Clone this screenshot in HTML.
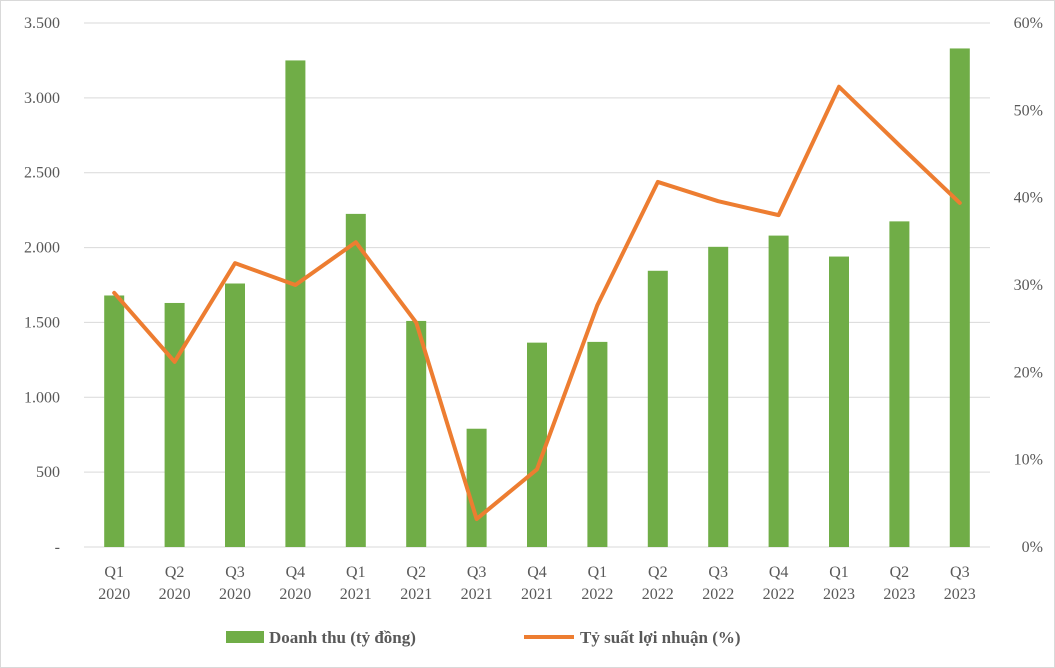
<!DOCTYPE html>
<html><head><meta charset="utf-8"><style>
body{margin:0;background:#fff;}
svg{display:block;font-family:"Liberation Serif","DejaVu Serif",serif;}
</style></head><body>
<svg id="chart" width="1055" height="668">
<rect x="0.5" y="0.5" width="1054" height="667" fill="#fff" stroke="#d9d9d9"/>
<g id="grid"></g><g id="bars"></g><g id="line"></g><g id="axes"></g>
<g>
<rect x="226" y="631" width="38" height="12" fill="#70ad47"/>
<text x="269" y="643" font-size="17" font-weight="bold" fill="#595959">Doanh thu (tỷ đồng)</text>
<line x1="524" y1="637" x2="574" y2="637" stroke="#ed7d31" stroke-width="4"/>
<text x="580" y="643" font-size="17" font-weight="bold" fill="#595959">Tỷ suất lợi nhuận (%)</text>
</g>
</svg>
<script>
const categories=["Q1|2020","Q2|2020","Q3|2020","Q4|2020","Q1|2021","Q2|2021","Q3|2021","Q4|2021","Q1|2022","Q2|2022","Q3|2022","Q4|2022","Q1|2023","Q2|2023","Q3|2023"];
const revenue=[1680,1630,1760,3250,2225,1510,790,1365,1370,1845,2005,2080,1940,2175,3330];
const margin=[29.1,21.2,32.5,30.0,34.9,25.7,3.2,8.9,27.7,41.8,39.6,38.0,52.7,46.0,39.4];
const leftTicks=["-","500","1.000","1.500","2.000","2.500","3.000","3.500"];
const rightTicks=["0%","10%","20%","30%","40%","50%","60%"];
const NS="http://www.w3.org/2000/svg";
const X0=84,X1=990,Y0=547,Y1=23;
const step=(X1-X0)/categories.length;
const xc=i=>X0+step*(i+0.5);
const yL=v=>Y0-(v/3500)*(Y0-Y1);
const yR=v=>Y0-(v/60)*(Y0-Y1);
function mk(t,a,p){const e=document.createElementNS(NS,t);for(const k in a)e.setAttribute(k,a[k]);p.appendChild(e);return e;}
const grid=document.getElementById('grid'),bars=document.getElementById('bars'),line=document.getElementById('line'),axes=document.getElementById('axes');
leftTicks.forEach((t,i)=>{const y=yL(i*500);
const g=mk('line',{x1:X0,x2:X1,y1:y,y2:y,stroke:'#d9d9d9','stroke-width':1},grid);


const tx=mk('text',{x:60,y:y+5,'text-anchor':'end','font-size':16,fill:'#595959'},axes);tx.textContent=t;

});
rightTicks.forEach((t,i)=>{const y=yR(i*10);
const tx=mk('text',{x:1043,y:y+5,'text-anchor':'end','font-size':16,fill:'#595959'},axes);tx.textContent=t;

});
categories.forEach((c,i)=>{const [q,yr]=c.split('|');
const t1=mk('text',{x:xc(i),y:577,'text-anchor':'middle','font-size':16,fill:'#595959'},axes);t1.textContent=q;


const t2=mk('text',{x:xc(i),y:599,'text-anchor':'middle','font-size':16,fill:'#595959'},axes);t2.textContent=yr;

});
revenue.forEach((v,i)=>{const r=mk('rect',{x:xc(i)-10,y:yL(v),width:20,height:Y0-yL(v),fill:'#70ad47'},bars);

});
const pts=margin.map((v,i)=>xc(i)+','+yR(v)).join(' ');
const pl=mk('polyline',{points:pts,fill:'none',stroke:'#ed7d31','stroke-width':4,'stroke-linejoin':'round','stroke-linecap':'round'},line);


</script>
</body></html>
